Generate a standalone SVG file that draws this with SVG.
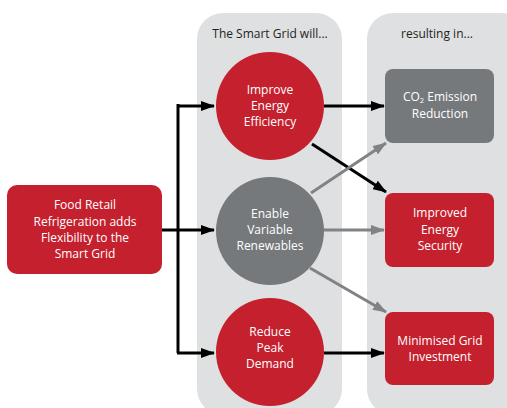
<svg xmlns="http://www.w3.org/2000/svg" width="507" height="408" viewBox="0 0 507 408">
<style>
.panel{fill:#dee0e1}
.red{fill:#c5202e}
.gray{fill:#76797c}
text{font-family:"Open Sans","Liberation Sans",sans-serif;font-size:12px;text-anchor:middle}
.w{fill:#ffffff}
.h{fill:#231f20}
.bl{stroke:#000;stroke-width:3;fill:none}
.gl{stroke:#808386;stroke-width:3;fill:none}
</style>
<defs>
<marker id="ab" markerUnits="userSpaceOnUse" markerWidth="14" markerHeight="10" refX="13" refY="5" orient="auto"><path d="M0,0L14,5L0,10z" fill="#000"/></marker>
<marker id="ag" markerUnits="userSpaceOnUse" markerWidth="14" markerHeight="10" refX="13" refY="5" orient="auto"><path d="M0,0L14,5L0,10z" fill="#808386"/></marker>
</defs>
<g id="panel-left"><rect class="panel" x="197" y="13" width="145" height="402" rx="26"/><text class="h" x="270" y="38">The Smart Grid will...</text></g>
<g id="panel-right"><rect class="panel" x="367" y="13" width="160" height="402" rx="26"/><text class="h" x="437" y="38">resulting in...</text></g>
<g id="connectors">
<path class="bl" d="M162,230H214" marker-end="url(#ab)"/>
<path class="bl" d="M178,104V353"/>
<path class="bl" d="M177,106H214" marker-end="url(#ab)"/>
<path class="bl" d="M177,353H214" marker-end="url(#ab)"/>
<path class="bl" d="M324,106H384" marker-end="url(#ab)"/>
<path class="bl" d="M312,144L386,192" marker-end="url(#ab)"/>
<path class="gl" d="M311,193L386,143" marker-end="url(#ag)"/>
<path class="gl" d="M324,230H384" marker-end="url(#ag)"/>
<path class="gl" d="M310,268L386,312" marker-end="url(#ag)"/>
<path class="bl" d="M324,353H384" marker-end="url(#ab)"/>
</g>
<g id="source"><rect class="red" x="7" y="185" width="155" height="89" rx="10"/>
<text class="w" x="85" y="209">Food Retail</text><text class="w" x="85" y="226">Refrigeration adds</text><text class="w" x="85" y="242">Flexibility to the</text><text class="w" x="85" y="258">Smart Grid</text></g>
<g id="efficiency"><circle class="red" cx="270" cy="106" r="54"/><text class="w" x="270" y="94">Improve</text><text class="w" x="270" y="110">Energy</text><text class="w" x="270" y="126">Efficiency</text></g>
<g id="renewables"><circle class="gray" cx="270" cy="231" r="54"/><text class="w" x="270" y="218">Enable</text><text class="w" x="270" y="234">Variable</text><text class="w" x="270" y="250">Renewables</text></g>
<g id="peak"><circle class="red" cx="270" cy="352" r="54"/><text class="w" x="270" y="336">Reduce</text><text class="w" x="270" y="352">Peak</text><text class="w" x="270" y="368">Demand</text></g>
<g id="co2"><rect class="gray" x="385" y="69" width="109" height="74" rx="8"/><text class="w" x="440" y="101">CO<tspan font-size="7.5" dy="2">2</tspan><tspan dy="-2"> Emission</tspan></text><text class="w" x="440" y="118">Reduction</text></g>
<g id="security"><rect class="red" x="385" y="193" width="109" height="74" rx="8"/><text class="w" x="440" y="217">Improved</text><text class="w" x="440" y="234">Energy</text><text class="w" x="440" y="250">Security</text></g>
<g id="investment"><rect class="red" x="385" y="312" width="109" height="73" rx="8"/><text class="w" x="440" y="345">Minimised Grid</text><text class="w" x="440" y="361">Investment</text></g>
</svg>
